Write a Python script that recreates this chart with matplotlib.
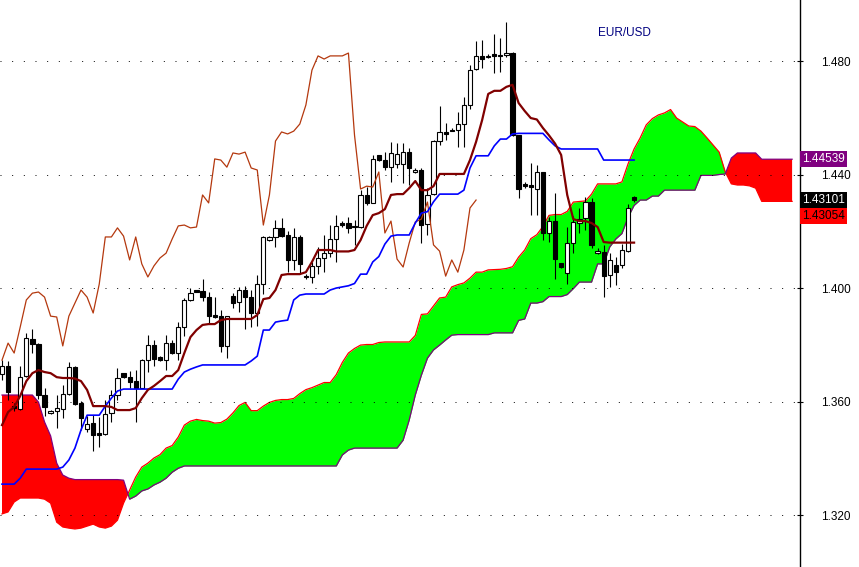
import numpy as np
import matplotlib
matplotlib.use("Agg")
import matplotlib.pyplot as plt

# EUR/USD daily candles
opens = [1.3697, 1.3725, 1.3584, 1.3574, 1.3690, 1.3820, 1.3803, 1.3623, 1.3560, 1.3567,
         1.3574, 1.3627, 1.3722, 1.3595, 1.3503, 1.3524, 1.3489, 1.3486, 1.3560, 1.3623,
         1.3700, 1.3686, 1.3672, 1.3648, 1.3746, 1.3799, 1.3757, 1.3746, 1.3806, 1.3771,
         1.3863, 1.3958, 1.3993, 1.3990, 1.3968, 1.3905, 1.3901, 1.3796, 1.3972, 1.3951,
         1.3993, 1.3968, 1.3912, 1.4014, 1.4169, 1.4180, 1.4212, 1.4187, 1.4099, 1.4180,
         1.4042, 1.4039, 1.4078, 1.4106, 1.4123, 1.4173, 1.4229, 1.4229, 1.4219, 1.4215,
         1.4328, 1.4300, 1.4469, 1.4451, 1.4426, 1.4437, 1.4437, 1.4479, 1.4409, 1.4416,
         1.4226, 1.4331, 1.4518, 1.4550, 1.4557, 1.4557, 1.4578, 1.4645, 1.4772, 1.4818,
         1.4814, 1.4825, 1.4821, 1.4821, 1.4828, 1.4539, 1.4367, 1.4363, 1.4349, 1.4409,
         1.4194, 1.4236, 1.4088, 1.4053, 1.4159, 1.4229, 1.4247, 1.4303, 1.4123, 1.4127,
         1.4046, 1.4081, 1.4081, 1.4130, 1.4321]
highs = [1.3746, 1.3743, 1.3595, 1.3725, 1.3841, 1.3856, 1.3806, 1.3648, 1.3570, 1.3623,
         1.3658, 1.3739, 1.3725, 1.3602, 1.3549, 1.3552, 1.3545, 1.3605, 1.3641, 1.3718,
         1.3700, 1.3708, 1.3711, 1.3750, 1.3834, 1.3817, 1.3760, 1.3834, 1.3817, 1.3880,
         1.3965, 1.4000, 1.3993, 1.4032, 1.3986, 1.3968, 1.3923, 1.3903, 1.3982, 1.4004,
         1.4007, 1.3993, 1.4046, 1.4183, 1.4183, 1.4240, 1.4247, 1.4201, 1.4212, 1.4187,
         1.4049, 1.4092, 1.4145, 1.4187, 1.4222, 1.4257, 1.4236, 1.4250, 1.4240, 1.4345,
         1.4356, 1.4469, 1.4470, 1.4479, 1.4515, 1.4511, 1.4511, 1.4493, 1.4423, 1.4423,
         1.4352, 1.4520, 1.4641, 1.4582, 1.4564, 1.4620, 1.4673, 1.4786, 1.4870, 1.4874,
         1.4825, 1.4895, 1.4881, 1.4937, 1.4832, 1.4539, 1.4374, 1.4441, 1.4433, 1.4410,
         1.4250, 1.4335, 1.4089, 1.4215, 1.4254, 1.4282, 1.4321, 1.4317, 1.4141, 1.4152,
         1.4123, 1.4109, 1.4155, 1.4296, 1.4324]
lows = [1.3676, 1.3605, 1.3567, 1.3570, 1.3686, 1.3771, 1.3609, 1.3549, 1.3556, 1.3507,
        1.3542, 1.3623, 1.3588, 1.3500, 1.3493, 1.3426, 1.3440, 1.3482, 1.3528, 1.3605,
        1.3683, 1.3648, 1.3528, 1.3648, 1.3704, 1.3725, 1.3743, 1.3711, 1.3767, 1.3746,
        1.3831, 1.3954, 1.3986, 1.3954, 1.3877, 1.3894, 1.3774, 1.3753, 1.3930, 1.3916,
        1.3856, 1.3863, 1.3866, 1.3979, 1.4166, 1.4145, 1.4180, 1.4056, 1.4064, 1.4053,
        1.4032, 1.4018, 1.4049, 1.4056, 1.4109, 1.4092, 1.4215, 1.4194, 1.4152, 1.4213,
        1.4293, 1.4298, 1.4448, 1.4416, 1.4374, 1.4423, 1.4370, 1.4363, 1.4405, 1.4159,
        1.4187, 1.4328, 1.4504, 1.4522, 1.4552, 1.4497, 1.4497, 1.4631, 1.4768, 1.4775,
        1.4811, 1.4758, 1.4761, 1.4814, 1.4536, 1.4317, 1.4352, 1.4257, 1.4257, 1.4169,
        1.4162, 1.4032, 1.4070, 1.4014, 1.4123, 1.4194, 1.4204, 1.4141, 1.4120, 1.3968,
        1.4004, 1.4011, 1.4070, 1.4127, 1.4303]
closes = [1.3725, 1.3634, 1.3577, 1.3686, 1.3824, 1.3803, 1.3623, 1.3581, 1.3567, 1.3577,
          1.3627, 1.3722, 1.3591, 1.3542, 1.3521, 1.3482, 1.3482, 1.3556, 1.3623, 1.3683,
          1.3686, 1.3669, 1.3648, 1.3746, 1.3799, 1.3750, 1.3746, 1.3806, 1.3771, 1.3863,
          1.3958, 1.3982, 1.3986, 1.3968, 1.3901, 1.3898, 1.3796, 1.3901, 1.3947, 1.3993,
          1.3968, 1.3912, 1.4014, 1.4180, 1.4180, 1.4212, 1.4183, 1.4099, 1.4180, 1.4085,
          1.4039, 1.4078, 1.4106, 1.4123, 1.4173, 1.4219, 1.4222, 1.4212, 1.4215, 1.4328,
          1.4300, 1.4455, 1.4451, 1.4426, 1.4476, 1.4472, 1.4479, 1.4423, 1.4416, 1.4222,
          1.4328, 1.4518, 1.4550, 1.4543, 1.4553, 1.4578, 1.4645, 1.4768, 1.4818, 1.4807,
          1.4818, 1.4818, 1.4818, 1.4828, 1.4539, 1.4349, 1.4359, 1.4356, 1.4409, 1.4194,
          1.4236, 1.4102, 1.4074, 1.4159, 1.4233, 1.4243, 1.4303, 1.4152, 1.4130, 1.4042,
          1.4099, 1.4056, 1.4134, 1.4282, 1.43101]

tenkan = [1.3517, 1.3563, 1.3581, 1.3620, 1.3672, 1.3700, 1.3711, 1.3704, 1.3700, 1.3686,
          1.3683, 1.3683, 1.3681, 1.3672, 1.3641, 1.3584, 1.3584, 1.3584, 1.3581, 1.3570,
          1.3570, 1.3570, 1.3577, 1.3612, 1.3641, 1.3655, 1.3672, 1.3690, 1.3690, 1.3711,
          1.3771, 1.3827, 1.3852, 1.3870, 1.3873, 1.3873, 1.3887, 1.3891, 1.3891, 1.3891,
          1.3891, 1.3891, 1.3905, 1.3961, 1.3965, 1.3993, 1.4046, 1.4049, 1.4049, 1.4049,
          1.4056, 1.4092, 1.4134, 1.4134, 1.4134, 1.4129, 1.4129, 1.4129, 1.4134, 1.4169,
          1.4219, 1.4257, 1.4264, 1.4278, 1.4328, 1.4331, 1.4331, 1.4352, 1.4377, 1.4345,
          1.4345, 1.4359, 1.4402, 1.4402, 1.4402, 1.4402, 1.4402, 1.4451, 1.4515, 1.4592,
          1.4684, 1.4695, 1.4695, 1.4709, 1.4716, 1.4652, 1.4624, 1.4599, 1.4594, 1.4564,
          1.4538, 1.4509, 1.4469, 1.4328, 1.4243, 1.4236, 1.4236, 1.4229, 1.4215, 1.4162,
          1.4160, 1.4160, 1.4160, 1.4160, 1.4160]
kijun = [1.3309, 1.3309, 1.3309, 1.3330, 1.3362, 1.3362, 1.3362, 1.3362, 1.3362, 1.3362,
         1.3369, 1.3394, 1.3436, 1.3500, 1.3552, 1.3552, 1.3552, 1.3584, 1.3612, 1.3637,
         1.3644, 1.3644, 1.3644, 1.3644, 1.3644, 1.3644, 1.3644, 1.3644, 1.3644, 1.3679,
         1.3704, 1.3714, 1.3722, 1.3729, 1.3729, 1.3729, 1.3729, 1.3729, 1.3729, 1.3729,
         1.3729, 1.3743, 1.3760, 1.3852, 1.3852, 1.3880, 1.3884, 1.3887, 1.3958, 1.3975,
         1.3979, 1.3979, 1.3979, 1.3979, 1.3993, 1.4000, 1.4004, 1.4008, 1.4016, 1.4049,
         1.4049, 1.4092, 1.4111, 1.4155, 1.4183, 1.4187, 1.4187, 1.4187, 1.4229, 1.4264,
         1.4269, 1.4304, 1.4331, 1.4331, 1.4331, 1.4331, 1.4345, 1.4423, 1.4466, 1.4466,
         1.4466, 1.4501, 1.4525, 1.4525, 1.4543, 1.4545, 1.4545, 1.4545, 1.4545, 1.4545,
         1.4522, 1.4501, 1.4490, 1.4490, 1.4490, 1.4490, 1.4490, 1.4490, 1.4490, 1.4451,
         1.4451, 1.4451, 1.4451, 1.4451, 1.4451]
# cloud lines, already shifted 26 bars ahead
senkou_a = [1.3204, 1.3211, 1.3246, 1.3260, 1.3260, 1.3260, 1.3260, 1.3256, 1.3242, 1.3175,
            1.3158, 1.3154, 1.3151, 1.3154, 1.3161, 1.3168, 1.3158, 1.3154, 1.3161, 1.3182,
            1.3242, 1.3288, 1.3334, 1.3369, 1.3383, 1.3401, 1.3413, 1.3436, 1.3445, 1.3475,
            1.3517, 1.3531, 1.3537, 1.3533, 1.3531, 1.3524, 1.3526, 1.3538, 1.3560, 1.3586,
            1.3597, 1.3568, 1.3568, 1.3584, 1.3597, 1.3604, 1.3607, 1.3607, 1.3611, 1.3628,
            1.3642, 1.3649, 1.3658, 1.3667, 1.3667, 1.3695, 1.3738, 1.3771, 1.3787, 1.3799,
            1.3801, 1.3801, 1.3808, 1.3810, 1.3810, 1.3810, 1.3810, 1.3810, 1.3833, 1.3907,
            1.3909, 1.3937, 1.3965, 1.3968, 1.4004, 1.4012, 1.4018, 1.4035, 1.4056, 1.4056,
            1.4064, 1.4065, 1.4066, 1.4069, 1.4075, 1.4109, 1.4134, 1.4174, 1.4188, 1.4217,
            1.4256, 1.4259, 1.4259, 1.4270, 1.4303, 1.4305, 1.4307, 1.4331, 1.4367, 1.4367,
            1.4367, 1.4367, 1.4374, 1.4437, 1.4490, 1.4529, 1.4575, 1.4597, 1.4610, 1.4617,
            1.4629, 1.4599, 1.4585, 1.4571, 1.4569, 1.4553, 1.4529, 1.4504, 1.4479, 1.4409,
            1.4367, 1.4363, 1.4363, 1.4360, 1.4352, 1.43054, 1.43054, 1.43054, 1.43054, 1.43054,
            1.43054]
senkou_b = [1.3623, 1.3623, 1.3623, 1.3623, 1.3623, 1.3623, 1.3598, 1.3528, 1.3479, 1.3383,
            1.3341, 1.3330, 1.3325, 1.3325, 1.3325, 1.3325, 1.3325, 1.3325, 1.3325, 1.3325,
            1.3323, 1.3256, 1.3267, 1.3285, 1.3292, 1.3306, 1.3316, 1.3330, 1.3351, 1.3365,
            1.3373, 1.3373, 1.3373, 1.3373, 1.3373, 1.3373, 1.3373, 1.3373, 1.3373, 1.3373,
            1.3373, 1.3373, 1.3373, 1.3373, 1.3373, 1.3373, 1.3373, 1.3373, 1.3373, 1.3373,
            1.3373, 1.3373, 1.3373, 1.3373, 1.3373, 1.3373, 1.3412, 1.3429, 1.3436, 1.3436,
            1.3436, 1.3436, 1.3436, 1.3436, 1.3436, 1.3436, 1.3464, 1.3535, 1.3623, 1.3693,
            1.3753, 1.3782, 1.3799, 1.3817, 1.3834, 1.3836, 1.3836, 1.3836, 1.3836, 1.3836,
            1.3836, 1.3842, 1.3842, 1.3842, 1.3842, 1.3886, 1.3891, 1.3947, 1.3947, 1.3952,
            1.3970, 1.3970, 1.3970, 1.3977, 1.3998, 1.4021, 1.4021, 1.4021, 1.4085, 1.4085,
            1.4145, 1.4173, 1.4192, 1.4249, 1.4291, 1.4310, 1.4310, 1.4324, 1.4324, 1.4345,
            1.4345, 1.4345, 1.4345, 1.4345, 1.4345, 1.4397, 1.4397, 1.4397, 1.4400, 1.4402,
            1.4458, 1.4476, 1.4476, 1.4476, 1.4476, 1.44539, 1.44539, 1.44539, 1.44539, 1.44539,
            1.44539]
chikou_shift = 26
price_ticks = [1.320, 1.360, 1.400, 1.440, 1.480]
symbol = "EUR/USD"

plt.rcParams['font.family'] = ['Liberation Sans', 'DejaVu Sans']

fig = plt.figure(figsize=(8.59, 5.67), dpi=100)
ax = fig.add_axes([0, 0, 800 / 859, 1])

# cloud
xc = np.arange(len(senkou_a))
a = np.array(senkou_a)
b = np.array(senkou_b)
ax.fill_between(xc, a, b, where=a >= b, interpolate=True, color='#00ff00', lw=0, zorder=1)
ax.fill_between(xc, a, b, where=a < b, interpolate=True, color='#ff0000', lw=0, zorder=1)
ax.plot(xc, a, color='#ff0000', lw=0.9, zorder=2)
ax.plot(xc, b, color='#800080', lw=0.9, zorder=2)

# candles
x = np.arange(len(closes))
o = np.array(opens)
c = np.array(closes)
up = c >= o
ax.vlines(x, lows, highs, color='black', lw=0.8, zorder=3)
body = np.maximum(np.abs(c - o), 0.0003)
ax.bar(x, body, bottom=np.minimum(o, c), width=0.7,
       color=np.where(up, 'white', 'black'), edgecolor='black', linewidth=0.8, zorder=4)

# chikou, kijun, tenkan
ax.plot(x[:len(closes) - chikou_shift], closes[chikou_shift:], color='#b4380e', lw=0.9, zorder=5)
ax.plot(x, kijun, color='#0000ff', lw=1.2, zorder=5)
ax.plot(x, tenkan, color='#800000', lw=1.6, zorder=6)

ax.set_xlim(-0.33, 131.3)
ax.set_ylim(1.3017, 1.5015)
ax.set_xticks([])
ax.yaxis.tick_right()
ax.set_yticks(price_ticks)
ax.set_yticklabels([f"{t:.3f}" for t in price_ticks])
ax.tick_params(axis='y', direction='inout', length=5, width=0.8, pad=13, labelsize=8.5)
for side in ['top', 'left', 'bottom']:
    ax.spines[side].set_visible(False)
ax.spines['right'].set_linewidth(1)
ax.grid(axis='y', color='black', linestyle=(0, (1, 11)), linewidth=0.7)
ax.set_axisbelow(False)

ax.text(0.78, 0.942, symbol, transform=ax.transAxes, ha='center', va='center',
        color='#000080', fontsize=8.5)

# value boxes on the price scale
box_kw = dict(xycoords=('axes fraction', 'data'), textcoords='offset points',
              va='center', ha='left', fontsize=8.5, annotation_clip=False)
ax.annotate(f"{senkou_b[-1]:.5f}", xy=(1, senkou_b[-1]), xytext=(1.5, 0), color='white',
            bbox=dict(boxstyle='square,pad=0.15', fc='#800080', ec='none'), **box_kw)
ax.annotate(f"{closes[-1]:.5f}", xy=(1, closes[-1]), xytext=(1.5, 0), color='white',
            bbox=dict(boxstyle='square,pad=0.15', fc='black', ec='none'), **box_kw)
ax.annotate(f"{senkou_a[-1]:.5f}", xy=(1, closes[-1]), xytext=(1.5, -11.5), color='black',
            bbox=dict(boxstyle='square,pad=0.15', fc='#ff0000', ec='none'), **box_kw)

fig.savefig('out.png', dpi=100, facecolor='white')
